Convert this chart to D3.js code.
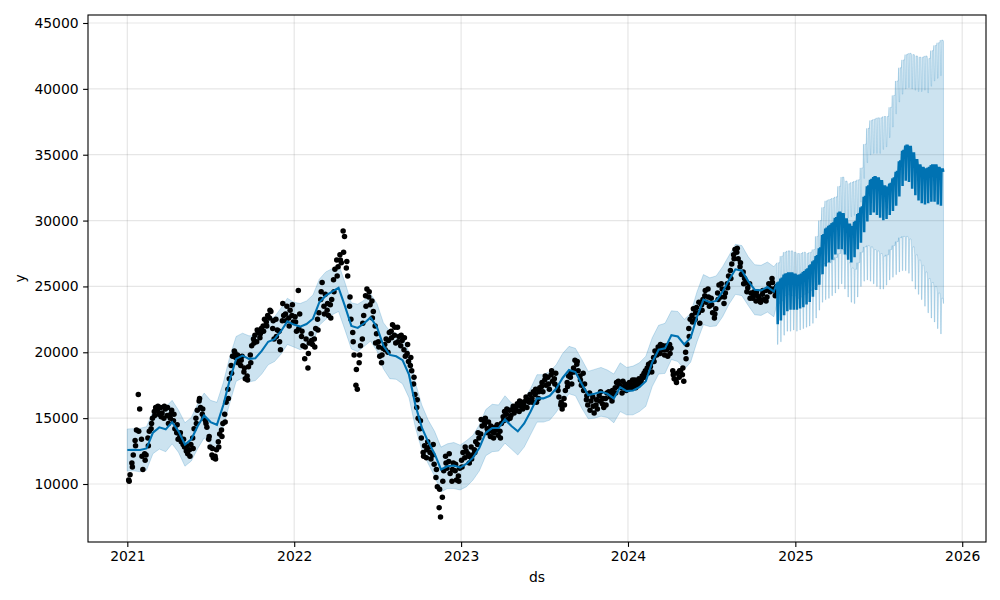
<!DOCTYPE html>
<html><head><meta charset="utf-8">
<script src="https://cdn.jsdelivr.net/npm/d3@7"></script>
<style>body{margin:0;background:#fff} text{font-family:"DejaVu Sans",sans-serif}</style>
</head><body><svg id="c" width="1000" height="600"></svg>
<script>
// ---------- DATA ----------
// observations: two readings per week (Mon, Thu), starting week of 2021-01-04
const obsStart = "2021-01-04";
const obsValues = [
10300,10700, 11600,12200, 13300,14100, 16800,15700, 13400,11100, 12300,12200, 13500,14000, 14200,15000, 15500,15800, 15600,15300,
15800,15400, 15000,15700, 15200,14600, 15000,15600, 14800,14200, 13900,13400, 13600,13200, 13000,12800, 12500,12300, 12600,13000,
13500,14200, 15000,15600, 16300,15800, 15300,15000, 14800,14300, 13400,12800, 12200,12000, 12100,12600, 13200,13800, 14100,14600,
15300,16200, 17200,18000, 19000,19700, 20100,19600, 19800,19500, 19000,19700, 18500,18000, 18200,18900, 19800,20500, 21000,21300,
20800,21500, 21100,21800, 22000,22500, 22300,22800, 22600,23100, 21800,21000, 22500,21700, 21600,20200, 22400,22800, 22900,23500,
22600,23200, 22800,22300,
22700,21600, 24700,22900, 21200,20500, 19500,21000, 18800,20700, 21400,20600, 21000,21800, 22500,23000, 24000,25300, 23500,24400,
23200,22800, 23600,24000, 25500,26300, 27000,26500, 27400,26800, 29200,28800, 26400,25800, 23500,22500, 21500,19800, 17500,17200,
19200,20500, 21000,22800, 24300,24800, 24200,23600, 23900,23100, 22000,21400, 20800,19700, 19200,20300, 20600,21000, 20000,21500,
21600,22100, 21300,20700, 21900,21200, 20500,20900, 20200,19700, 19900,19300, 19000,18600, 17600,16800, 15800,15000, 14200,13500,
12400,12900, 12000,13200, 12800,11900, 12200,11500, 10500,9800, 8200,7500, 9000,11000, 12100,11200, 11700,10800, 10200,11600,
11000,10300, 10600,11200,
11800,12400, 12000,12500, 12300,11600, 12800,12200, 12600,13200, 13000,13500, 13800,14400, 14800,15000, 14200,14700, 13600,14000,
13500,14300, 14100,13700, 14000,14600, 15100,15500, 15300,14900, 15600,15200, 15700,15400, 15900,16100, 15500,15900, 16200,16000,
16300,15800, 16400,16800, 16500,17000, 16800,16200, 16500,17300, 17400,17000, 17900,17500, 18100,17200, 18300,17800, 18000,18400,
17400,16600, 16000,15700, 16500,17100, 17700,18200, 18100,17600, 18800,19400, 19100,18600, 18200,17500, 18400,17600, 16400,16000,
16900,16300, 16600,15400, 16000,15700, 16700,17000, 16100,15800, 16500,16900, 17000,16600, 16300,16800, 17300,17700, 17800,17500,
17300,17800, 17600,17100,
17200,17700, 17500,17900, 17600,17300, 17800,18000, 17700,18200, 18400,18600, 18800,19100, 18900,18500, 19600,20100, 19800,20400,
19900,20200, 20500,19800, 20200,19700, 20600,20300, 18600,18000, 17900,18400, 18100,18600, 18300,17800, 20000,20600, 21800,22500,
22800,23300, 22500,23400, 23000,22200, 23600,24000, 24300,23800, 24800,23500, 24100,23000, 22600,23300, 24500,25100, 24200,24800,
23700,24500, 25200,25800, 26200,26700, 27400,27800, 27600,27100, 26500,25900, 26100,25600, 25300,24900, 25200,24500, 24100,24600,
23900,24300, 24100,23800, 24400,24000, 24700,24200, 25200,24600, 25600,24800, 24300,25000
];
// one more reading per week (Tue)
const obsValuesTue = [
10200,11300,12900,14000,12100,11800,12900,14600,15200,15900,
15100,15900,15800,15300,15300,14500,13900,13400,12900,12100,
12700,14600,16500,15700,14600,13600,12700,11900,12800,13600,
14700,16500,18400,20000,19200,19400,18800,17900,19200,20700,
21700,21400,21600,22000,23200,22400,21200,20800,23700,22400,
22000,23600,
22300,21800,21600,20400,19900,20900,20400,21700,24600,22900,
23700,22600,24600,25800,27000,27600,26900,24200,20800,18700,
19800,22200,23500,24600,22600,20700,20400,19800,20200,20900,
21100,21900,20800,21300,21100,20600,19600,18100,16400,14800,
12100,12600,12400,13000,11100,9600,10200,11600,12300,11100,
11500,10200,
11300,12800,12100,11900,12400,13900,14900,14500,13900,14400,
13900,14500,13500,14800,15700,15000,15900,15600,16300,15700,
16600,16200,16200,17200,17000,17700,18200,17600,18600,17600,
17100,16200,16000,17400,18400,18500,19300,17900,17100,16700,
15600,15900,16400,16300,16500,16000,16900,17100,16900,17400,
16900,17400,
17500,17300,17900,17500,17900,18100,18400,19200,19300,20100,
20600,20200,20500,19900,18300,17700,18600,18800,19500,21200,
22300,23000,23800,23200,24700,24200,23600,22900,24000,25200,
24200,24900,25600,27100,27900,26800,25200,24600,24100,24300,
24600,23900,24700,23900,24900,25300,24600
];

// fitted yhat on history, every 14 days from histStart
const histStart = "2021-01-01";
const histYhat = [
12580,12600,12580,12700,13900,14300,14150,14700,14000,13000,
13400,14400,15200,14700,14500,16000,17900,19500,19750,19500,
19550,20100,20800,21000,21600,22350,22100,21950,22150,22550,
23800,24300,24600,24900,23500,22000,21850,22200,22650,21900,
20500,19800,19700,19400,18300,16000,14300,13200,12300,11100,
11350,11400,11250,11550,12000,12750,13900,14250,14250,14900,
14400,14000,14600,15500,16500,16500,16700,17250,18050,18650,
18500,17600,16750,16850,17000,16850,16500,17350,17050,17100,
17350,17800,19250,20200,20300,21300,21200,20600,21100,22700,
24000,23800,23900,24600,25500,26300,26200,25400,24750,24700,
24950,24600
];
// half width of the uncertainty interval on history
const histHalfBand = [
1600,1600,1650,1650,1600,1650,1700,1650,1600,1650,
1650,1700,1700,1650,1700,1700,1750,1700,1700,1750,
1700,1750,1750,1700,1750,1750,1700,1750,1750,1800,
1750,1800,1750,1800,1800,1750,1800,1750,1800,1800,
1750,1800,1750,1800,1750,1700,1700,1650,1700,1700,
1700,1750,1700,1750,1700,1750,1750,1800,1750,1800,
1750,1800,1800,1750,1800,1800,1850,1800,1850,1800,
1800,1850,1800,1850,1850,1800,1850,1850,1800,1850,
1850,1900,1850,1850,1900,1850,1900,1900,1850,1900,
1900,1850,1900,1900,1850,1900,1900,1850,1900,1900,
1900,1900
];

// forecast: daily from fcStart, values per week (weekday level / weekend level)
const fcStart = "2024-11-22";
const fcDays = 365;
const fcWeekdayYhat = [
25300,25600,25900,26000,26000,25900,25800,25900,26100,26300,
26600,26900,27300,27900,28900,29400,29600,29800,30200,30600,
30500,30100,29700,29500,29900,30500,31000,31800,32600,33100,
33300,33200,33000,32600,32500,32800,33200,33700,34500,35300,
35700,35600,35100,34600,34200,34000,33900,34000,34200,34200,
34000,33900,33700
];
const fcWeekendYhat = [
22200,22500,22900,23200,23300,23300,23300,23400,23500,23700,
23900,24300,24800,25200,26000,26600,26900,27100,27500,27900,
27900,27500,27100,26900,27300,27900,28400,29200,30000,30500,
30700,30500,30300,30100,30200,30500,30800,31200,31900,32700,
33100,33000,32500,32000,31600,31400,31300,31400,31500,31500,
31300,31200,31100
];
const fcWeekdayUpper = [
26800,27300,27600,27700,27700,27600,27500,27500,27600,27500,
27600,27800,28800,30000,31000,31500,31600,31700,31800,32600,
33300,33000,32800,32900,33000,33100,34000,35800,37000,37600,
37700,37800,37800,37900,37900,38600,39500,40600,41600,42200,
42600,42700,42600,42500,42400,42400,42500,42300,42900,43300,
43500,43700,43600
];
const fcWeekendLower = [
20600,20800,21300,21600,21600,21700,21600,21700,21800,21900,
22000,22200,22600,23200,23800,24000,24100,24300,24500,24800,
25200,24800,24200,23800,23700,24200,25000,25400,25500,25400,
25200,25000,24800,24800,25100,25500,25700,25900,26100,26200,
26200,26000,25400,24800,24400,24000,23500,23000,22600,22300,
21800,21400,21100
];

const yTicks = [10000,15000,20000,25000,30000,35000,40000,45000];
const xTickYears = [2021,2022,2023,2024,2025,2026];

// ---------- BUILD ----------
const DAY = 864e5;
const parse = d3.utcParse("%Y-%m-%d");
const addDays = (s, n) => new Date(parse(s).getTime() + n*DAY);

const obs = obsValues.map((v,i)=>({d:addDays(obsStart, 7*Math.floor(i/2) + 3*(i%2)), v}))
  .concat(obsValuesTue.map((v,i)=>({d:addDays(obsStart, 7*i + 1), v})));
const hist = histYhat.map((v,i)=>({d:addDays(histStart,14*i), yhat:v, lo:v-histHalfBand[i], hi:v+histHalfBand[i]}));
const fc = [];
for(let t=0;t<fcDays;t++){
  const d = addDays(fcStart,t), k=Math.floor(t/7), dow=d.getUTCDay();
  const we = (dow===0||dow===6);
  const dip = fcWeekdayYhat[k]-fcWeekendYhat[k];
  fc.push({d,
    yhat: we?fcWeekendYhat[k]:fcWeekdayYhat[k],
    hi: we?fcWeekdayUpper[k]-dip:fcWeekdayUpper[k],
    lo: we?fcWeekendLower[k]:fcWeekendLower[k]+dip});
}
const all = hist.concat(fc);

const L=88,R=986,T=15,B=542;
const x = d3.scaleUtc().domain([new Date(Date.UTC(2020,9,7)), new Date(Date.UTC(2026,1,22))]).range([L,R]);
const y = d3.scaleLinear().domain([5597,45607]).range([B,T]);

const svg = d3.select("#c");
svg.append("defs").append("clipPath").attr("id","clip").append("rect").attr("x",L).attr("y",T).attr("width",R-L).attr("height",B-T);

// grid
const g = svg.append("g");
g.selectAll(".gx").data(xTickYears).enter().append("line")
  .attr("x1",d=>x(new Date(Date.UTC(d,0,1)))).attr("x2",d=>x(new Date(Date.UTC(d,0,1))))
  .attr("y1",T).attr("y2",B).attr("stroke","#808080").attr("stroke-opacity",0.2).attr("stroke-width",1.2);
g.selectAll(".gy").data(yTicks).enter().append("line")
  .attr("x1",L).attr("x2",R).attr("y1",d=>y(d)).attr("y2",d=>y(d))
  .attr("stroke","#808080").attr("stroke-opacity",0.2).attr("stroke-width",1.2);

const plot = svg.append("g").attr("clip-path","url(#clip)");
// band
plot.append("path").datum(all)
  .attr("d", d3.area().x(d=>x(d.d)).y0(d=>y(d.lo)).y1(d=>y(d.hi)))
  .attr("fill","#0072B2").attr("fill-opacity",0.2)
  .attr("stroke","#0072B2").attr("stroke-opacity",0.2).attr("stroke-width",1);
// observed points
plot.selectAll("circle").data(obs).enter().append("circle")
  .attr("cx",d=>x(d.d)).attr("cy",d=>y(d.v)).attr("r",2.75).attr("fill","#000");
// yhat line
plot.append("path").datum(all)
  .attr("d", d3.line().x(d=>x(d.d)).y(d=>y(d.yhat)))
  .attr("fill","none").attr("stroke","#0072B2").attr("stroke-width",2.1);

// axes
const xa = svg.append("g").attr("transform",`translate(0,${B})`)
  .call(d3.axisBottom(x).tickValues(xTickYears.map(v=>new Date(Date.UTC(v,0,1)))).tickFormat(d3.utcFormat("%Y")).tickSize(4.9).tickPadding(4.5));
const ya = svg.append("g").attr("transform",`translate(${L},0)`)
  .call(d3.axisLeft(y).tickValues(yTicks).tickFormat(d3.format("d")).tickSize(4.9).tickPadding(4.5));
[xa,ya].forEach(a=>{
  a.select(".domain").remove();
  a.selectAll("line").attr("stroke","#000").attr("stroke-width",1.1);
  a.selectAll("text").attr("fill","#000").style("font-size","13.9px").style("font-family","DejaVu Sans");
});
svg.append("rect").attr("x",L).attr("y",T).attr("width",R-L).attr("height",B-T)
  .attr("fill","none").attr("stroke","#000").attr("stroke-width",1.1);

svg.append("text").attr("x",(L+R)/2).attr("y",582).attr("text-anchor","middle").style("font-size","13.9px").text("ds");
svg.append("text").attr("transform",`translate(25,${(T+B)/2}) rotate(-90)`).attr("text-anchor","middle").style("font-size","13.9px").text("y");
</script></body></html>
